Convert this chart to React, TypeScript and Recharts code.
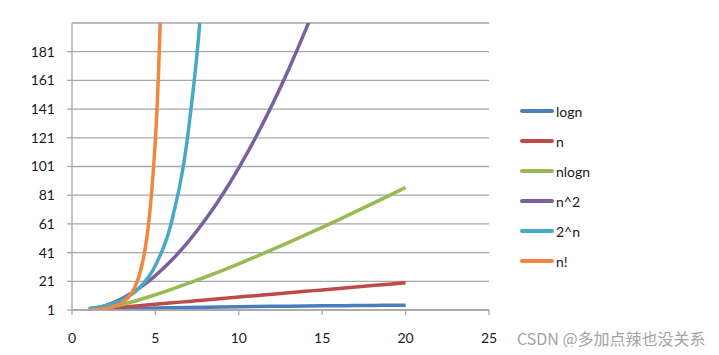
import React from "react";
import { LineChart, Line, XAxis, YAxis, CartesianGrid, Legend } from "recharts";

// values, n = 1..20
const nValues = [1, 2, 3, 4, 5, 6, 7, 8, 9, 10, 11, 12, 13, 14, 15, 16, 17, 18, 19, 20];
const lognValues = [0, 1, 1.58, 2, 2.32, 2.58, 2.81, 3, 3.17, 3.32, 3.46, 3.58, 3.7, 3.81, 3.91, 4, 4.09, 4.17, 4.25, 4.32];
const linearValues = [1, 2, 3, 4, 5, 6, 7, 8, 9, 10, 11, 12, 13, 14, 15, 16, 17, 18, 19, 20];
const nlognValues = [0, 2, 4.75, 8, 11.6, 15.5, 19.7, 24, 28.5, 33.2, 38.1, 43, 48.1, 53.3, 58.6, 64, 69.5, 75.1, 80.7, 86.4];
const squareValues = [1, 4, 9, 16, 25, 36, 49, 64, 81, 100, 121, 144, 169, 196, 225, 256, 289, 324, 361, 400];
const expValues = [2, 4, 8, 16, 32, 64, 128, 256, 512, null, null, null, null, null, null, null, null, null, null, null];
const factValues = [1, 2, 6, 24, 120, 720, 5040, null, null, null, null, null, null, null, null, null, null, null, null, null];

const xTicks = [0, 5, 10, 15, 20, 25];
const yTicks = [1, 21, 41, 61, 81, 101, 121, 141, 161, 181];

const SERIES = [
  { key: "logn", name: "logn", color: "#4a7ebb" },
  { key: "linear", name: "n", color: "#be4b48" },
  { key: "nlogn", name: "nlogn", color: "#98b954" },
  { key: "square", name: "n^2", color: "#7d5fa0" },
  { key: "exp", name: "2^n", color: "#46aac5" },
  { key: "fact", name: "n!", color: "#f0873e" },
];

const data = nValues.map((n, i) => ({
  n,
  logn: lognValues[i],
  linear: linearValues[i],
  nlogn: nlognValues[i],
  square: squareValues[i],
  exp: expValues[i],
  fact: factValues[i],
}));

const FONT = "Lato, 'Noto Sans', sans-serif";
const GRID = "#a6a6a6";

function renderLegend() {
  return (
    <div style={{ fontFamily: FONT, fontSize: 14, color: "#1a1a1a" }}>
      {SERIES.map((s) => (
        <div key={s.key} style={{ height: 30, display: "flex", alignItems: "center" }}>
          <span
            style={{
              display: "inline-block",
              width: 34,
              height: 3.5,
              borderRadius: 2,
              background: s.color,
              marginRight: 2,
            }}
          />
          <span>{s.name}</span>
        </div>
      ))}
    </div>
  );
}

export default function App() {
  return (
    <div style={{ position: "relative", margin: -8, width: 719, height: 355, background: "#fff" }}>
      <LineChart
        width={719}
        height={355}
        data={data}
        margin={{ top: 23, right: 230, bottom: 0, left: 0 }}
      >
        <CartesianGrid horizontal vertical={false} stroke={GRID} strokeWidth={1.3} />
        <XAxis
          dataKey="n"
          type="number"
          domain={[0, 25]}
          ticks={xTicks}
          height={45}
          tickSize={5}
          tickMargin={18}
          stroke={GRID}
          strokeWidth={1.3}
          tick={{ fill: "#1a1a1a", fontSize: 14, fontFamily: FONT }}
        />
        <YAxis
          type="number"
          domain={[1, 201]}
          ticks={yTicks}
          allowDataOverflow
          width={72}
          tickSize={5}
          tickMargin={12}
          stroke={GRID}
          strokeWidth={1.3}
          tick={{ fill: "#1a1a1a", fontSize: 14, fontFamily: FONT }}
        />
        <Legend
          layout="vertical"
          align="center"
          verticalAlign="middle"
          content={renderLegend}
          wrapperStyle={{ left: 520, top: 96, width: 100, height: 180 }}
        />
        {SERIES.map((s) => (
          <Line
            key={s.key}
            type="monotone"
            dataKey={s.key}
            name={s.name}
            stroke={s.color}
            strokeWidth={3.5}
            dot={false}
            connectNulls={false}
            isAnimationActive={false}
          />
        ))}
      </LineChart>
      <div
        style={{
          position: "absolute",
          left: 517,
          top: 326,
          fontFamily: "'Noto Sans CJK SC', 'Noto Sans', sans-serif",
          fontSize: 16,
          color: "#a3a3a3",
          whiteSpace: "nowrap",
        }}
      >
        CSDN @多加点辣也没关系
      </div>
    </div>
  );
}
